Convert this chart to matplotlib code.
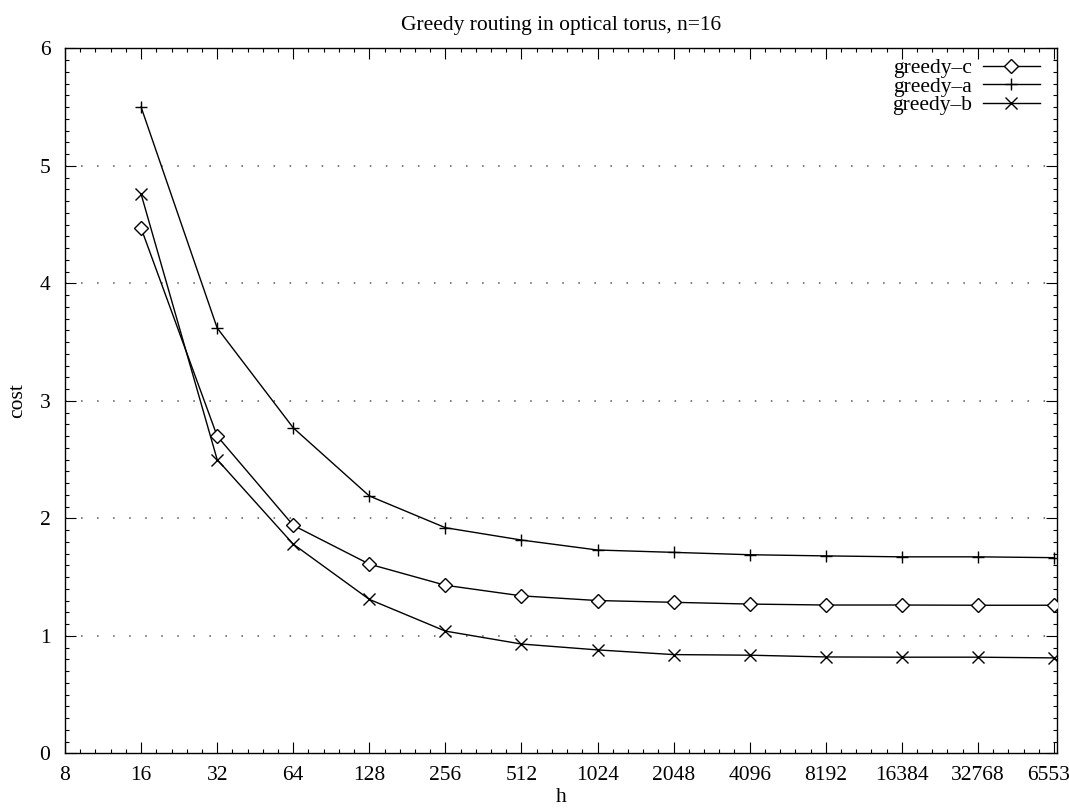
import matplotlib
matplotlib.use("Agg")
import matplotlib.pyplot as plt
from matplotlib.ticker import FixedLocator, FixedFormatter

h = [16, 32, 64, 128, 256, 512, 1024, 2048, 4096, 8192, 16384, 32768, 65536]
greedy_c = [4.47, 2.70, 1.94, 1.61, 1.43, 1.34, 1.30, 1.285, 1.27, 1.262, 1.262, 1.26, 1.26]
greedy_a = [5.50, 3.62, 2.77, 2.19, 1.92, 1.815, 1.73, 1.71, 1.69, 1.68, 1.672, 1.672, 1.665]
greedy_b = [4.76, 2.50, 1.78, 1.31, 1.04, 0.93, 0.88, 0.84, 0.835, 0.82, 0.818, 0.818, 0.812]

xticks = [8, 16, 32, 64, 128, 256, 512, 1024, 2048, 4096, 8192, 16384, 32768, 65536]
xticklabels = [str(v) for v in xticks]
yticks = [0, 1, 2, 3, 4, 5, 6]

plt.rcParams['font.family'] = ['Liberation Serif', 'DejaVu Serif']
FS = 15.5

fig = plt.figure(figsize=(10.69, 8.09), dpi=100)
W, H = 1069, 809
AX_L, AX_R, AX_T, AX_B = 65, 1057, 48.3, 753.3
ax = fig.add_axes([AX_L / W, (H - AX_B) / H, (AX_R - AX_L) / W, (AX_B - AX_T) / H])

ax.set_xscale('log', base=2)
ax.set_xlim(8, 65536 * 2 ** (3 / 76))
ax.set_ylim(0, 6)

ax.xaxis.set_major_locator(FixedLocator(xticks))
ax.xaxis.set_major_formatter(FixedFormatter(xticklabels))
minor_x = []
for k in range(3, 17):
    for j in range(1, 5):
        minor_x.append(2 ** (k + j / 5))
ax.xaxis.set_minor_locator(FixedLocator(minor_x))
ax.xaxis.set_minor_formatter(FixedFormatter([''] * len(minor_x)))

ax.yaxis.set_major_locator(FixedLocator(yticks))
ax.yaxis.set_minor_locator(FixedLocator([i / 10 for i in range(61) if i % 10]))

ax.tick_params(which='both', direction='in', top=True, right=True, width=0.8,
               labelsize=FS, colors='black')
ax.tick_params(which='major', length=8)
ax.tick_params(axis='x', which='major', pad=9)
ax.tick_params(axis='y', which='major', pad=10.5)
ax.tick_params(which='minor', length=3)

for s in ax.spines.values():
    s.set_linewidth(1.0)
    s.set_color('black')

for y in yticks[1:-1]:
    ax.axhline(y, color='#555555', linewidth=1.1, linestyle=(0, (1, 9.5)), zorder=1)

lkw = dict(color='black', linewidth=1.0, zorder=3)
ax.plot(h, greedy_c, marker='D', markersize=7, markerfacecolor='white',
        markeredgecolor='black', markeredgewidth=1.0, label='greedy\u2013c', **lkw)
ax.plot(h, greedy_a, marker='+', markersize=8.5, markeredgewidth=1.0,
        label='greedy\u2013a', **lkw)
ax.plot(h, greedy_b, marker='x', markersize=8.5, markeredgewidth=1.0,
        label='greedy\u2013b', **lkw)

aw, ah = AX_R - AX_L, AX_B - AX_T
leg = ax.legend(loc='upper right', bbox_to_anchor=(1 - 17 / aw, 1 - 10 / ah),
                frameon=False, markerfirst=False, fontsize=FS,
                handlelength=2.65, handletextpad=0.5, labelspacing=-0.07,
                borderpad=0, borderaxespad=0)

ax.set_title('Greedy routing in optical torus, n=16', fontsize=FS, pad=13)
ax.set_xlabel('h', fontsize=FS, labelpad=2)
ax.set_ylabel('cost', fontsize=FS)
ax.yaxis.set_label_coords((27 - AX_L) / aw, 0.5)

fig.savefig('out.png', dpi=100)
